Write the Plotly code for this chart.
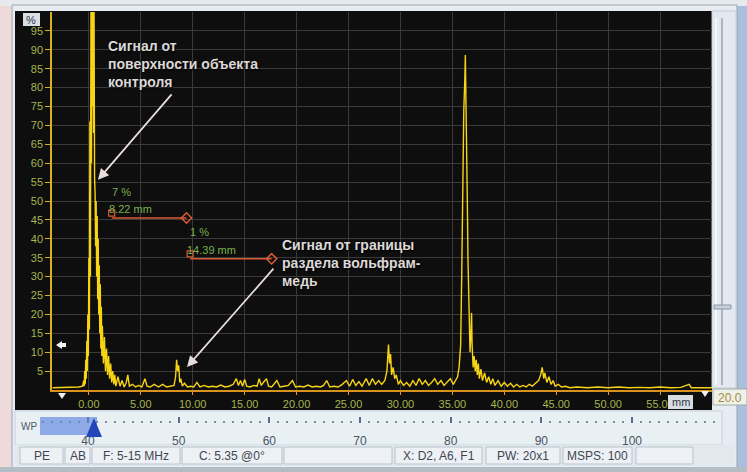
import plotly.graph_objects as go

W, H = 747, 472

# ---------------- data ----------------
ascan_x = [-3.5, -3.0, -2.5, -2.0, -1.5, -1.0, -0.6, -0.5, -0.45, -0.4, -0.35, -0.3, -0.25, -0.2, -0.15,
           -0.1, -0.05, 0.0, 0.05, 0.1, 0.15, 0.2, 0.25, 0.3, 0.35, 0.4, 0.45, 0.5, 0.55, 0.6, 0.65,
           0.7, 0.75, 0.8, 0.85, 0.9, 0.95, 1.0, 1.05, 1.1, 1.15, 1.2, 1.25, 1.3, 1.4, 1.5, 1.6, 1.7,
           1.8, 1.9, 2.0, 2.1, 2.2, 2.3, 2.4, 2.5, 2.6, 2.8, 3.0, 3.2, 3.4, 3.6, 3.75, 3.9, 4.2, 4.5,
           4.8, 5.1, 5.4, 5.6, 5.9, 6.3, 6.7, 7.1, 7.5, 7.9, 8.2, 8.35, 8.45, 8.55, 8.65, 8.75, 8.85,
           9.0, 9.2, 9.5, 9.8, 10.1, 10.4, 10.7, 11.1, 11.5, 11.9, 12.3, 12.7, 13.1, 13.5, 13.9, 14.2,
           14.4, 14.6, 14.8, 15.0, 15.2, 15.5, 15.9, 16.2, 16.4, 16.6, 16.8, 17.1, 17.3, 17.6, 18.1,
           18.4, 18.8, 19.2, 19.6, 19.9, 20.3, 20.7, 21.1, 21.5, 21.9, 22.3, 22.6, 22.9, 23.2, 23.6,
           24.0, 24.4, 24.8, 25.1, 25.4, 25.7, 26.0, 26.3, 26.7, 27.0, 27.3, 27.6, 27.9, 28.2, 28.5,
           28.7, 28.85, 28.95, 29.05, 29.15, 29.3, 29.45, 29.6, 29.8, 30.0, 30.3, 30.6, 30.9, 31.2,
           31.5, 31.8, 32.1, 32.4, 32.7, 33.0, 33.3, 33.6, 33.9, 34.2, 34.5, 34.8, 35.1, 35.3, 35.5,
           35.65, 35.8, 35.9, 36.0, 36.1, 36.2, 36.25, 36.3, 36.35, 36.4, 36.45, 36.5, 36.55, 36.6,
           36.7, 36.8, 36.85, 36.9, 37.0, 37.1, 37.2, 37.3, 37.4, 37.5, 37.6, 37.75, 37.9, 38.1, 38.3,
           38.5, 38.7, 38.9, 39.1, 39.4, 39.7, 40.0, 40.3, 40.6, 40.9, 41.2, 41.5, 41.8, 42.1, 42.4,
           42.7, 43.0, 43.3, 43.5, 43.65, 43.8, 43.9, 44.1, 44.3, 44.5, 44.7, 44.9, 45.2, 45.5, 45.9,
           46.3, 47.0, 48.0, 49.0, 50.0, 51.0, 52.0, 53.0, 54.0, 55.0, 56.0, 57.0, 57.8, 58.0, 59.0, 60.0]
ascan_y = [0.6, 0.6, 0.6, 0.6, 0.6, 0.8, 1.0, 2.5, 1.0, 5, 1.5, 8, 3, 13, 5,
           20, 9, 35, 16, 71, 30, 100, 60, 100, 75, 100, 68, 100, 56, 52, 38,
           50, 30, 46, 24, 40, 20, 33, 15, 28, 11, 22, 9, 17, 7, 14, 5, 11,
           4, 9, 3, 7, 2, 5, 1.5, 4, 1, 3.5, 1, 2.5, 0.8, 2, 4, 1, 1.5, 0.8,
           1.2, 0.8, 3, 1, 0.8, 1.5, 0.8, 1.5, 0.8, 1, 1.2, 3.5, 8, 5, 6.5, 2, 3,
           1, 1.8, 0.8, 1, 0.8, 2, 0.8, 1.2, 0.8, 1, 0.8, 1.3, 0.8, 1, 1.5, 3,
           1.2, 2.5, 1, 2.8, 1, 0.8, 1.2, 1, 3, 1.2, 2, 3, 1, 0.8, 2.5,
           0.8, 1, 1.2, 2.5, 0.8, 1, 0.8, 1.3, 0.8, 1, 0.8, 1.2, 2.5, 0.8, 1,
           0.8, 1.5, 2.5, 1, 2.8, 1.2, 2.2, 1, 3, 1.2, 3, 1.5, 2.5, 1.5, 2.5,
           5, 12, 7, 9.5, 4, 6, 3, 4, 1.5, 2.5, 1.2, 2, 1, 2.5,
           1.2, 3, 1.5, 2.5, 1.2, 2, 3, 1.5, 2.5, 1.2, 2, 3, 1.5, 2.5, 3.5,
           6, 12, 30, 55, 74, 82, 88.6, 78, 70, 63, 48, 35, 26, 18,
           10, 16, 20.4, 12, 6, 9, 5, 8, 4, 7, 3, 5.5, 2.5, 4.5, 2,
           3.5, 1.5, 3, 1.2, 2.5, 1, 2, 1, 1.8, 0.8, 1.5, 0.8, 1.2, 0.8, 1.5,
           1, 1.8, 2.5, 4, 6, 3, 4.5, 2, 3.5, 1.5, 2.5, 1, 1.5, 0.8, 1,
           0.6, 0.8, 0.6, 0.8, 0.6, 0.8, 0.6, 0.7, 0.6, 0.8, 0.6, 0.7, 1.5, 0.6, 0.6, 0.6]

y_ticks = [5, 10, 15, 20, 25, 30, 35, 40, 45, 50, 55, 60, 65, 70, 75, 80, 85, 90, 95]
x_ticks = [0, 5, 10, 15, 20, 25, 30, 35, 40, 45, 50, 55]
x_tick_labels = ["0.00", "5.00", "10.00", "15.00", "20.00", "25.00", "30.00",
                 "35.00", "40.00", "45.00", "50.00", "55.00"]

gate_start = [2.2, 9.75]
gate_end = [9.4, 17.6]
gate_level = [45.5, 34.7]
gate_amp = ["7 %", "1 %"]
gate_depth = ["8.22 mm", "14.39 mm"]

slider_ticks = [40, 50, 60, 70, 80, 90, 100]

status_texts = ["PE", "AB", "F: 5-15 MHz", "C: 5.35 @0°", "", "X: D2, A6, F1", "PW: 20x1", "MSPS: 100", ""]
status_cells = [(20, 63), (65, 90), (92, 180), (182, 282), (284, 392), (395, 482), (486, 560), (563, 632), (636, 693)]

label1 = "Сигнал от<br>поверхности объекта<br>контроля"
label2 = "Сигнал от границы<br>раздела вольфрам-<br>медь"

# ---------------- helpers ----------------
FONT = "Arial, Liberation Sans, sans-serif"
OLIVE = "#a6b54e"
GRID = "#3a3a3a"


def rect(x0, y0, x1, y1, fill, line=None, layer="below", lw=1):
    return dict(type="rect", xref="paper", yref="paper",
                x0=x0 / W, x1=x1 / W, y0=1 - y1 / H, y1=1 - y0 / H,
                fillcolor=fill, layer=layer,
                line=dict(width=(lw if line else 0), color=(line or fill)))


def pline(x0, y0, x1, y1, color, width=1, layer="above"):
    return dict(type="line", xref="paper", yref="paper",
                x0=x0 / W, x1=x1 / W, y0=1 - y0 / H, y1=1 - y1 / H,
                line=dict(color=color, width=width), layer=layer)


def ptext(x, y, s, size=12, color="#3c4450", xanchor="left", bold=False):
    return dict(xref="paper", yref="paper", x=x / W, y=1 - y / H, text=("<b>%s</b>" % s if bold else s),
                showarrow=False, xanchor=xanchor, yanchor="middle",
                font=dict(family=FONT, size=size, color=color))


def tri(xa, ya, xb, yb, xc, yc, fill, layer="above"):
    p = "M %f %f L %f %f L %f %f Z" % (xa / W, 1 - ya / H, xb / W, 1 - yb / H, xc / W, 1 - yc / H)
    return dict(type="path", xref="paper", yref="paper", path=p, fillcolor=fill,
                line=dict(width=0), layer=layer)


fig = go.Figure()

# A-scan trace
fig.add_trace(go.Scatter(x=ascan_x, y=ascan_y, mode="lines",
                         line=dict(color="#f7d414", width=1.4), hoverinfo="skip"))

# gates
for s, e, lv in zip(gate_start, gate_end, gate_level):
    fig.add_trace(go.Scatter(x=[s, e], y=[lv, lv], mode="lines",
                             line=dict(color="#dc5a32", width=1.5), hoverinfo="skip"))
    fig.add_trace(go.Scatter(x=[e], y=[lv], mode="markers",
                             marker=dict(symbol="diamond-open", size=8, color="#dc5a32",
                                         line=dict(width=1.5, color="#dc5a32")), hoverinfo="skip"))
    fig.add_trace(go.Scatter(x=[s], y=[lv + 1.3], mode="markers",
                             marker=dict(symbol="square-open", size=6, color="#dc5a32",
                                         line=dict(width=1.2, color="#dc5a32")), hoverinfo="skip"))

# slider ruler (second axis)
fig.add_trace(go.Scatter(x=[slider_ticks[0]], y=[0], mode="markers",
                         marker=dict(opacity=0), xaxis="x2", yaxis="y2", hoverinfo="skip"))

shapes = [
    rect(0, 0, 12, H, "#efdadb"),
    rect(737, 0, W, H, "#a9bfdb"),
    rect(0, 0, W, 6, "#e6e9ee"),
    rect(12, 5, 737, 468, "#e6ecf1", line="#9aa6b4"),
    rect(0, 467, W, H, "#b4bcc6"),
    rect(15, 11, 712, 410, "#0e0e0e"),
    rect(712, 11, 736, 388, "#e3e9ef", line="#c4ccd6"),
    rect(15, 411, 722, 445, "#e8f0f4", line="#c8d2dc"),
    rect(15, 445, 735, 466, "#e2e8ee"),
]
for (c0, c1) in status_cells:
    shapes.append(rect(c0, 447, c1, 464, "#edf1f5", line="#b8c2cc"))

shapes += [
    pline(722, 18, 722, 385, "#9aa4b0", 1.5, layer="below"),
    pline(716, 18, 716, 385, "#fafcfe", 1.5, layer="below"),
    rect(714, 305, 731, 309, "#c8d0da", line="#8a96a4", layer="below"),
    rect(713, 389, 747, 405, "#eef0ea", line="#a4aca4", layer="above"),
    rect(23, 13, 40, 26, "#d9dee5", layer="above"),
    rect(668, 395, 693, 409, "#d9dde2", layer="above"),
    rect(40, 417, 97, 435, "rgba(92,132,222,0.65)", layer="above"),
    tri(94, 418, 86, 437, 102, 437, "#2345b8"),
    tri(58, 393, 66, 393, 62, 399, "#f0f0f0"),
    tri(701, 391, 709, 391, 705, 397, "#f0f0f0"),
    tri(56, 345, 62, 341, 62, 349, "#f0f0f0"),
    rect(61, 343, 66, 347, "#f0f0f0", layer="above"),
]

ann = [
    ptext(31.5, 19.5, "%", size=11, color="#303a48", xanchor="center"),
    ptext(680.5, 402, "mm", size=11, color="#303a48", xanchor="center"),
    ptext(730, 397.5, "20.0", size=12, color="#a68c3c", xanchor="center"),
    ptext(19, 426, "WP", size=10, color="#505a68"),
]
for (c0, c1), t in zip(status_cells, status_texts):
    if t:
        ann.append(ptext((c0 + c1) / 2, 456, t, size=12, color="#3e4652", xanchor="center"))

for s, lv, a, d in zip(gate_start, gate_level, gate_amp, gate_depth):
    ann.append(dict(x=s - 0.2, y=lv + 7.0, text=a, showarrow=False, xanchor="left", yanchor="middle",
                    font=dict(family=FONT, size=11, color="#78b04c")))
    ann.append(dict(x=s - 0.5, y=lv + 2.4, text=d, showarrow=False, xanchor="left", yanchor="middle",
                    font=dict(family=FONT, size=11, color="#78b04c")))

ann.append(dict(x=1.63, y=93.6, text="<b>%s</b>" % label1, showarrow=False, xanchor="left", yanchor="top",
                align="left",
                font=dict(family=FONT, size=14, color="#dcd8d8", shadow="1px 1px 2px #000000")))
ann.append(dict(x=18.4, y=41.0, text="<b>%s</b>" % label2, showarrow=False, xanchor="left", yanchor="top",
                align="left",
                font=dict(family=FONT, size=14, color="#dcd8d8", shadow="1px 1px 2px #000000")))
ann.append(dict(x=0.88, y=55.6, ax=8.09, ay=78.6, axref="x", ayref="y", text="", showarrow=True,
                arrowhead=2, arrowsize=1.2, arrowwidth=1.8, arrowcolor="#e9dcdc", standoff=0))
ann.append(dict(x=9.45, y=6.1, ax=17.9, ay=32.5, axref="x", ayref="y", text="", showarrow=True,
                arrowhead=2, arrowsize=1.2, arrowwidth=1.8, arrowcolor="#e9dcdc", standoff=0))

fig.update_layout(
    width=W, height=H,
    margin=dict(l=0, r=0, t=0, b=0),
    paper_bgcolor="#dde4ec",
    plot_bgcolor="rgba(0,0,0,0)",
    showlegend=False,
    shapes=shapes,
    annotations=ann,
    xaxis=dict(domain=[52 / W, 712 / W], range=[-3.55, 60.0], tickvals=x_ticks, ticktext=x_tick_labels,
               showgrid=True, gridcolor=GRID, gridwidth=1, zeroline=False,
               showline=True, linecolor="#d9921e", linewidth=1.5,
               ticks="outside", ticklen=3, tickcolor="#d9a020",
               tickfont=dict(family=FONT, size=11, color=OLIVE), anchor="y"),
    yaxis=dict(domain=[1 - 390 / H, 1 - 12 / H], range=[0, 100], tickvals=y_ticks,
               showgrid=True, gridcolor=GRID, gridwidth=1, zeroline=False,
               showline=True, linecolor="#d8b21c", linewidth=1.5,
               ticks="outside", ticklen=5, tickcolor="#d8b21c",
               tickfont=dict(family=FONT, size=11, color=OLIVE), anchor="x"),
    xaxis2=dict(domain=[40 / W, 720 / W], range=[34.71, 109.7], tickvals=slider_ticks,
                showgrid=False, zeroline=False, showline=False,
                ticks="inside", ticklen=6, tickwidth=1.5, tickcolor="#5a6e90",
                minor=dict(dtick=1, tick0=0, ticks="inside", ticklen=2, tickwidth=1.5, tickcolor="#7a8ca8"),
                ticklabelstandoff=9,
                tickfont=dict(family=FONT, size=12, color="#4a5462"), anchor="y2"),
    yaxis2=dict(domain=[1 - 423 / H, 1 - 417 / H], range=[-1, 1], visible=False, anchor="x2"),
)

fig.write_html("out.html", config={"displayModeBar": False},
               post_script="document.body.style.margin='0';document.body.style.overflow='hidden';")
